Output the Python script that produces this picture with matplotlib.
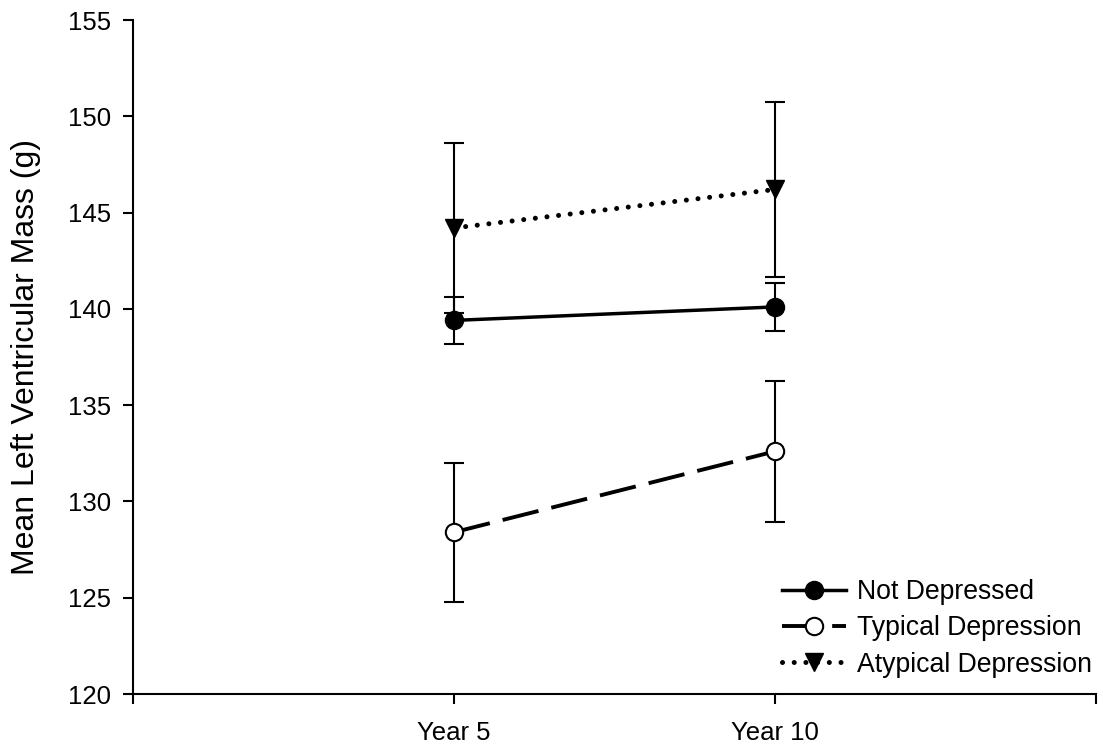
import matplotlib
matplotlib.use("Agg")
import matplotlib.pyplot as plt

# ─── data ───
years = ["Year 5", "Year 10"]
x_pos = [1, 2]

not_dep_mean = [139.4, 140.1]
not_dep_err = [1.2, 1.25]

typical_mean = [128.4, 132.6]
typical_err = [3.6, 3.65]

atypical_mean = [144.2, 146.2]
atypical_err = [4.4, 4.55]

labels = ["Not Depressed", "Typical Depression", "Atypical Depression"]

plt.rcParams["font.family"] = ["Liberation Sans", "DejaVu Sans"]

fig = plt.figure(figsize=(11.03, 7.52), dpi=100)
ax = fig.add_axes([133 / 1103, 1 - 694 / 752, (1096 - 133) / 1103, (694 - 20) / 752])

err_kw = dict(fmt="none", ecolor="black", elinewidth=1.5, capsize=7, capthick=1.5, zorder=2)
ax.errorbar(x_pos, not_dep_mean, yerr=not_dep_err, **err_kw)
ax.errorbar(x_pos, typical_mean, yerr=typical_err, **err_kw)
ax.errorbar(x_pos, atypical_mean, yerr=atypical_err, **err_kw)

ax.plot(x_pos, not_dep_mean, color="black", lw=2.5, marker="o", ms=13,
        mfc="black", mec="black", label=labels[0], zorder=3)
ax.plot(x_pos, typical_mean, color="black", lw=2.8, marker="o", ms=12.5,
        mfc="white", mec="black", mew=1.5, dashes=(9.5, 3.4), label=labels[1], zorder=3)
ax.plot(x_pos, atypical_mean, color="black", lw=3.6, marker="v", ms=13,
        mfc="black", mec="black", dashes=(0.01, 2.33), dash_capstyle="round",
        label=labels[2], zorder=3)

ax.set_xlim(0, 3)
ax.set_ylim(120, 155)
ax.set_xticks([0, 1, 2, 3])
ax.set_xticklabels(["", years[0], years[1], ""])
ax.set_yticks(range(120, 156, 5))

for s in ["top", "right"]:
    ax.spines[s].set_visible(False)
for s in ["left", "bottom"]:
    ax.spines[s].set_linewidth(1.5)
ax.tick_params(axis="both", direction="out", length=7.5, width=1.5, labelsize=18.5, pad=8)
ax.tick_params(axis="x", pad=12)

ax.set_ylabel("Mean Left Ventricular Mass (g)", fontsize=23, labelpad=20)

leg = ax.legend(loc="upper left", bbox_to_anchor=(782 / 1103, 1 - 579 / 752),
                bbox_transform=fig.transFigure, frameon=False, fontsize=19.2,
                handlelength=2.4, handletextpad=0.4, labelspacing=0.39,
                borderpad=0, borderaxespad=0)

fig.savefig("out.png", dpi=100)
